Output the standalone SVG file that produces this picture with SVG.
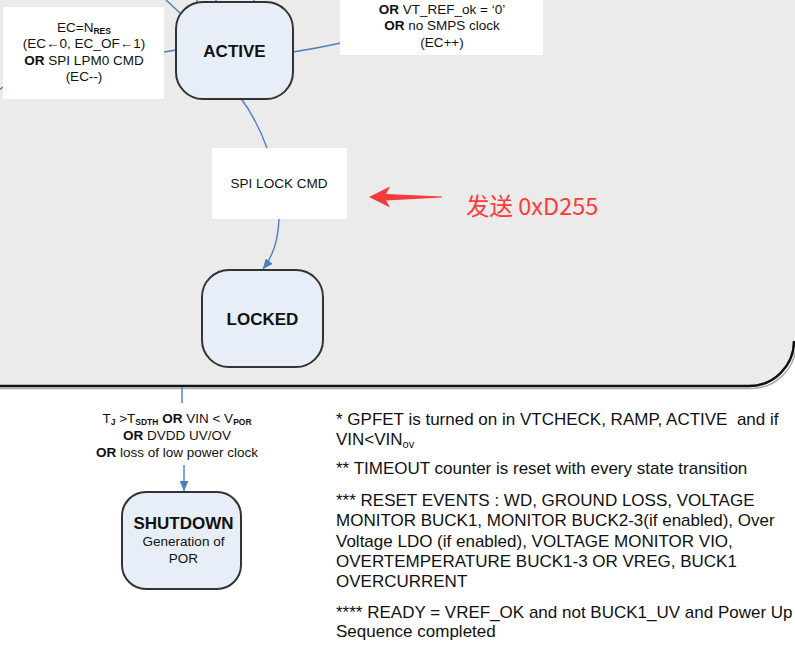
<svg xmlns="http://www.w3.org/2000/svg" width="795" height="646" viewBox="0 0 795 646">
<style>
text{font-family:"Liberation Sans",Arial,sans-serif;fill:#111}
.lbl{font-size:13.5px;text-anchor:middle}
.node{fill:#e8eef8;stroke:#333;stroke-width:2}
.nt{font-size:17px;font-weight:bold;text-anchor:middle}
.b{font-weight:bold}
.sub{font-size:8.5px;font-weight:bold}
.con{fill:none;stroke:#4a7fc1;stroke-width:1.4}
.note{font-size:17px}
.box{fill:#fff}
</style>
<defs>
<marker id="ah" markerUnits="userSpaceOnUse" markerWidth="10" markerHeight="9" refX="10" refY="4.5" orient="auto">
<path d="M0,0 L10,4.5 L0,9 z" fill="#4a7fc1"/>
</marker>
</defs>
<rect x="0" y="0" width="795" height="646" fill="#fff"/>
<!-- background region -->
<path d="M-10,-10 H795 V341 A45 45 0 0 1 750,386 H-10 Z" fill="#ebebeb"/>
<path d="M-10,388.5 H749 A45 45 0 0 0 796,343" fill="none" stroke="#aaa" stroke-width="1.5"/>
<path d="M-10,386 H749 A45 45 0 0 0 794,341" fill="none" stroke="#111" stroke-width="2.5"/>

<g id="connectors">
<path class="con" d="M166,0 L180,13"/>
<path class="con" d="M197,0 L197,3"/>
<path class="con" d="M216,0 L216,3"/>
<path class="con" d="M254,0 L255,3"/>
<path class="con" d="M164,52 L176,50"/>
<path class="con" d="M3,87 L-5,93"/>
<path class="con" d="M293,52 Q318,48 341,43"/>
<path class="con" d="M240,97 Q256,118 267,148"/>
<path class="con" d="M279,219 Q278,250 263,269" marker-end="url(#ah)"/>
<path class="con" d="M182,387 L182,403"/>
<path class="con" d="M184,465 L184,491" marker-end="url(#ah)"/>
</g>

<g id="label-left">
<rect class="box" x="3" y="7" width="161" height="92"/>
<text class="lbl" x="84" y="32">EC=N<tspan class="sub" dy="2">RES</tspan></text>
<text class="lbl" x="84" y="48">(EC←0, EC_OF←1)</text>
<text class="lbl" x="84" y="65"><tspan class="b">OR</tspan> SPI LPM0 CMD</text>
<text class="lbl" x="84" y="81">(EC--)</text>
</g>

<g id="label-right">
<rect class="box" x="340" y="-2" width="203" height="57"/>
<text class="lbl" x="442" y="14"><tspan class="b">OR</tspan> VT_REF_ok = ‘0’</text>
<text class="lbl" x="442" y="30"><tspan class="b">OR</tspan> no SMPS clock</text>
<text class="lbl" x="442" y="47">(EC++)</text>
</g>

<g id="active">
<rect class="node" x="176" y="2" width="117" height="97" rx="27"/>
<text class="nt" x="234.5" y="56.5">ACTIVE</text>
</g>

<g id="label-lock">
<rect class="box" x="212" y="148" width="135" height="71"/>
<text class="lbl" x="279" y="188">SPI LOCK CMD</text>
</g>

<g id="annotation">
<path d="M369,197 L390,186.5 L386,194 L442,196.6 L442,197.6 L386,200.5 L390,207.5 Z" fill="#f23c3c"/>
<text x="466" y="215" style="font-family:'Noto Sans CJK SC','Liberation Sans',sans-serif;font-size:23.5px;fill:#ff3b3b">发送 0xD255</text>
</g>

<g id="locked">
<rect class="node" x="202" y="270" width="121" height="97" rx="27"/>
<text class="nt" x="262.5" y="325">LOCKED</text>
</g>

<g id="label-shutdown">
<text class="lbl" x="177" y="423">T<tspan class="sub" dy="2">J</tspan><tspan dy="-2"> &gt;T</tspan><tspan class="sub" dy="2">SDTH</tspan><tspan class="b" dy="-2"> OR</tspan> VIN &lt; V<tspan class="sub" dy="2">POR</tspan></text>
<text class="lbl" x="177" y="440"><tspan class="b">OR</tspan> DVDD UV/OV</text>
<text class="lbl" x="177" y="457"><tspan class="b">OR</tspan> loss of low power clock</text>
</g>

<g id="shutdown">
<rect class="node" x="122" y="492" width="119" height="97" rx="24"/>
<text class="nt" x="183.5" y="529">SHUTDOWN</text>
<text class="lbl" x="183.5" y="546">Generation of</text>
<text class="lbl" x="183.5" y="563">POR</text>
</g>

<g id="notes">
<text class="note" x="336" y="425">* GPFET is turned on in VTCHECK, RAMP, ACTIVE&#160; and if</text>
<text class="note" x="336" y="445">VIN&lt;VIN<tspan font-size="11" dy="3">ov</tspan></text>
<text class="note" x="336" y="474">** TIMEOUT counter is reset with every state transition</text>
<text class="note" x="336" y="506">*** RESET EVENTS : WD, GROUND LOSS, VOLTAGE</text>
<text class="note" x="336" y="526">MONITOR BUCK1, MONITOR BUCK2-3(if enabled), Over</text>
<text class="note" x="336" y="547">Voltage LDO (if enabled), VOLTAGE MONITOR VIO,</text>
<text class="note" x="336" y="567">OVERTEMPERATURE BUCK1-3 OR VREG, BUCK1</text>
<text class="note" x="336" y="587">OVERCURRENT</text>
<text class="note" x="336" y="618">**** READY = VREF_OK and not BUCK1_UV and Power Up</text>
<text class="note" x="336" y="637">Sequence completed</text>
</g>
</svg>
